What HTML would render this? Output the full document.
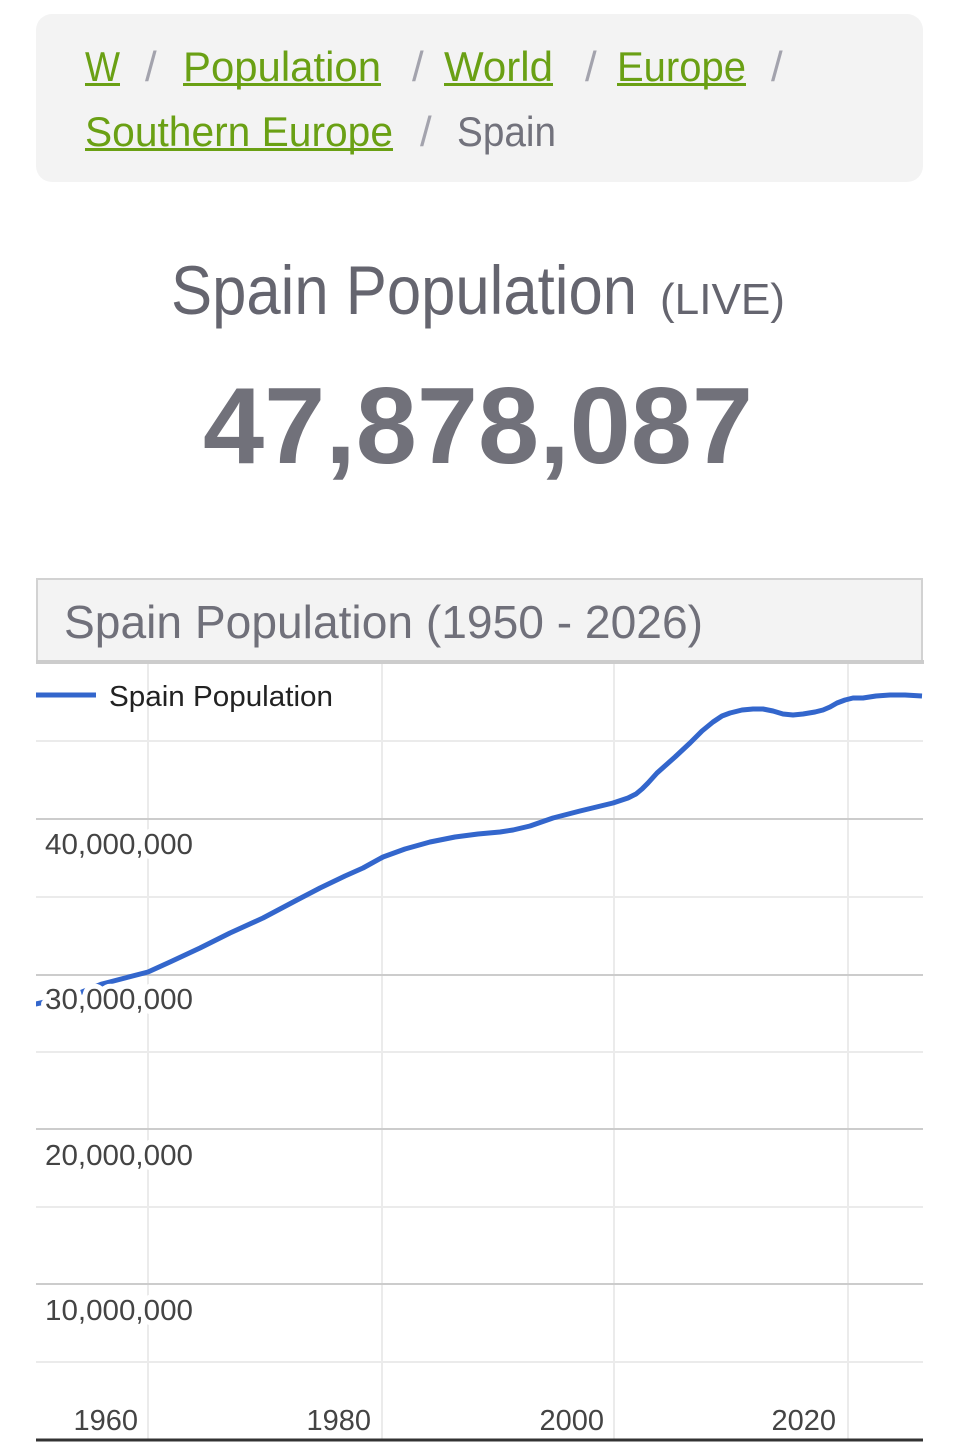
<!DOCTYPE html>
<html>
<head>
<meta charset="utf-8">
<style>
  html, body { margin:0; padding:0; background:#ffffff; }
  body { width:960px; height:1455px; overflow:hidden; position:relative; }
  svg { position:absolute; left:0; top:0; }
  .bc { font-family:"Liberation Sans", sans-serif; font-size:42px; }
  .lbl { font-family:"Liberation Sans", sans-serif; font-size:29px; fill:#444444; }
</style>
</head>
<body>
<svg width="960" height="1455" viewBox="0 0 960 1455" xmlns="http://www.w3.org/2000/svg">
  <!-- Breadcrumb box -->
  <rect x="36" y="14" width="887" height="168" rx="16" ry="16" fill="#f3f3f3"/>
  <g class="bc">
    <text x="85" y="81" fill="#6aa014" textLength="35" lengthAdjust="spacingAndGlyphs">W</text>
    <rect x="85" y="83" width="35" height="3" fill="#6aa014"/>
    <text x="145" y="81" fill="#a3a3ad">/</text>
    <text x="183" y="81" fill="#6aa014" textLength="198" lengthAdjust="spacingAndGlyphs">Population</text>
    <rect x="183" y="83" width="198" height="3" fill="#6aa014"/>
    <text x="412" y="81" fill="#a3a3ad">/</text>
    <text x="444" y="81" fill="#6aa014" textLength="109" lengthAdjust="spacingAndGlyphs">World</text>
    <rect x="444" y="83" width="109" height="3" fill="#6aa014"/>
    <text x="585" y="81" fill="#a3a3ad">/</text>
    <text x="617" y="81" fill="#6aa014" textLength="129" lengthAdjust="spacingAndGlyphs">Europe</text>
    <rect x="617" y="83" width="129" height="3" fill="#6aa014"/>
    <text x="771" y="81" fill="#a3a3ad">/</text>

    <text x="85" y="146" fill="#6aa014" textLength="308" lengthAdjust="spacingAndGlyphs">Southern Europe</text>
    <rect x="85" y="148" width="308" height="3" fill="#6aa014"/>
    <text x="420" y="146" fill="#a3a3ad">/</text>
    <text x="457" y="146" fill="#72727c" textLength="99" lengthAdjust="spacingAndGlyphs">Spain</text>
  </g>

  <!-- Main title -->
  <text x="171" y="314" font-family="'Liberation Sans', sans-serif" font-size="69" fill="#65656f" textLength="466" lengthAdjust="spacingAndGlyphs">Spain Population</text>
  <text x="660" y="314" font-family="'Liberation Sans', sans-serif" font-size="44" fill="#65656f" textLength="125" lengthAdjust="spacingAndGlyphs">(LIVE)</text>

  <!-- Live number -->
  <text x="203" y="463" font-family="'Liberation Sans', sans-serif" font-size="109" font-weight="bold" fill="#71717a" textLength="550" lengthAdjust="spacingAndGlyphs">47,878,087</text>

  <!-- Chart title box -->
  <rect x="37" y="579" width="885" height="83" fill="#f3f3f3" stroke="#d2d2d2" stroke-width="2"/>
  <rect x="36" y="660" width="888" height="4" fill="#cccccc"/>
  <text x="64" y="638" font-family="'Liberation Sans', sans-serif" font-size="46" fill="#70707a" textLength="639" lengthAdjust="spacingAndGlyphs">Spain Population (1950 - 2026)</text>

  <!-- Gridlines -->
  <g stroke-width="2">
    <line x1="36" x2="923" y1="741" y2="741" stroke="#ebebeb"/>
    <line x1="36" x2="923" y1="897" y2="897" stroke="#ebebeb"/>
    <line x1="36" x2="923" y1="1052" y2="1052" stroke="#ebebeb"/>
    <line x1="36" x2="923" y1="1207" y2="1207" stroke="#ebebeb"/>
    <line x1="36" x2="923" y1="1362" y2="1362" stroke="#ebebeb"/>
    <line x1="148" x2="148" y1="664" y2="1440" stroke="#ebebeb"/>
    <line x1="382" x2="382" y1="664" y2="1440" stroke="#ebebeb"/>
    <line x1="614" x2="614" y1="664" y2="1440" stroke="#ebebeb"/>
    <line x1="848" x2="848" y1="664" y2="1440" stroke="#ebebeb"/>
    <line x1="36" x2="923" y1="819" y2="819" stroke="#cccccc"/>
    <line x1="36" x2="923" y1="975" y2="975" stroke="#cccccc"/>
    <line x1="36" x2="923" y1="1129" y2="1129" stroke="#cccccc"/>
    <line x1="36" x2="923" y1="1284" y2="1284" stroke="#cccccc"/>
  </g>

  <!-- Legend -->
  <line x1="36" x2="96" y1="695" y2="695" stroke="#3366cc" stroke-width="5"/>
  <text x="109" y="706" font-family="'Liberation Sans', sans-serif" font-size="29" fill="#222222" textLength="224" lengthAdjust="spacingAndGlyphs">Spain Population</text>

  <!-- Series -->
  <clipPath id="clip"><rect x="36" y="664" width="887" height="776"/></clipPath>
  <polyline clip-path="url(#clip)" fill="none" stroke="#3366cc" stroke-width="5" stroke-linejoin="round" stroke-linecap="butt"
    points="31,1005 45,1002 60,999 82,992 102,984 125,978 148,972 170,962 200,948 230,933 263,918 297,900 320,888 345,876 363,868 383,857 405,849 430,842 455,837 478,834 500,832 513,830 530,826 553,818 580,811 613,803 628,798 636,794 642,789 648,783 657,773 675,757 690,743 702,731 713,722 722,716 730,713 742,710 753,709 763,709 773,711 783,714 793,715 803,714 815,712 823,710 830,707 837,703 845,700 853,698 863,698 876,696 890,695 905,695 922,696"/>

  <!-- Y axis labels with halo -->
  <g class="lbl" stroke="#ffffff" stroke-width="10" stroke-linejoin="round" paint-order="stroke">
    <text x="45" y="854" textLength="148" lengthAdjust="spacingAndGlyphs">40,000,000</text>
    <text x="45" y="1009" textLength="148" lengthAdjust="spacingAndGlyphs">30,000,000</text>
    <text x="45" y="1165" textLength="148" lengthAdjust="spacingAndGlyphs">20,000,000</text>
    <text x="45" y="1320" textLength="148" lengthAdjust="spacingAndGlyphs">10,000,000</text>
  </g>

  <!-- X axis labels -->
  <g class="lbl" text-anchor="end">
    <text x="138" y="1430">1960</text>
    <text x="371" y="1430">1980</text>
    <text x="604" y="1430">2000</text>
    <text x="836" y="1430">2020</text>
  </g>

  <!-- Baseline axis -->
  <line x1="36" x2="923" y1="1440" y2="1440" stroke="#333333" stroke-width="3"/>
</svg>
</body>
</html>
